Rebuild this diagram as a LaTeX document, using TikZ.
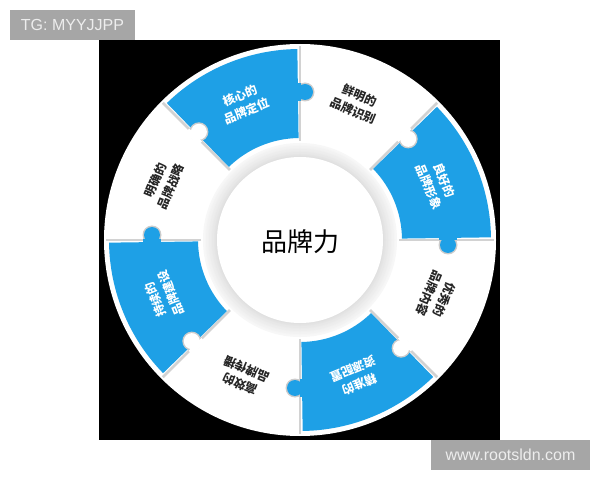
\documentclass[tikz,border=0pt]{standalone}
\usepackage{fontspec}
\newfontfamily\cjk{Noto Sans CJK SC}
\newfontfamily\wmfont{Liberation Sans}
\definecolor{puzzleblue}{RGB}{30,160,230}
\definecolor{markgray}{RGB}{166,166,166}
\tikzset{
  ringtext/.style={font=\cjk\bfseries\fontsize{12}{16.5}\selectfont, align=center, inner sep=0pt},
  wmtext/.style={font=\wmfont\fontsize{16}{18}\selectfont, text=white!93!black, inner sep=0pt},
  seamline/.style={line width=2.5, color=gray!35}
}
\begin{document}
\begin{tikzpicture}[x=1pt,y=1pt]
  \useasboundingbox (0,0) rectangle (600,480);
  \fill[white] (0,0) rectangle (600,480);
  \fill[black] (99,40) rectangle (500,440);

  % watermarks
  \fill[markgray] (10,440) rectangle (135,470);
  \node[wmtext] (tg) at (72.5,455) {TG: MYYJJPP};
  \fill[markgray] (431,10) rectangle (590,40);
  \node[wmtext] (web) at (510.5,25) {www.rootsldn.com};

  \begin{scope}[shift={(300,240)}]
    \fill[white] (0,0) circle (196);
    \foreach \a in {0,45,...,315}
      \draw[seamline] (\a:99) -- (\a:194);
    \foreach \s in {0,90,180,270}
      \fill[puzzleblue] ({\s+0.8}:102) arc[start angle=\s+0.8, end angle=\s+44.2, radius=102]
        -- ({\s+44.2}:191) arc[start angle=\s+44.2, end angle=\s+0.8, radius=191] -- cycle;

    % puzzle knobs
    \foreach \a/\c in {0/puzzleblue,45/white,90/puzzleblue,135/white,180/puzzleblue,225/white,270/puzzleblue,315/white}{
      \begin{scope}[rotate=\a]
        \fill[gray!40] (148,-5) circle (9.5);
        \fill[\c] (148,-5) circle (8);
        \fill[\c] (139,-0.5) -- (157,-0.5) -- (157,5) -- (139,5) -- cycle;
      \end{scope}
    }

    % centre ring
    \foreach \k [evaluate=\k as \g using int(3+0.7*\k)] in {0,...,13}
      \fill[black!\g] (0,0) circle ({97-\k});
    \fill[white] (0,0) circle (83);
    \node[font=\cjk\fontsize{26}{30}\selectfont] (core) at (0,-1.5) {品牌力};

    \foreach \a/\t/\c [count=\i] in {112.5/{核心的\\品牌定位}/white, 67.5/{鲜明的\\品牌识别}/black!85,
        22.5/{良好的\\品牌形象}/white, -22.5/{优秀的\\品牌内容}/black!85,
        -67.5/{精准的\\资源配置}/white, -112.5/{高效的\\品牌传播}/black!85,
        -157.5/{持续的\\品牌建设}/white, 157.5/{明确的\\品牌战略}/black!85}
      \node[ringtext, text=\c, rotate=\a-90] (seg\i) at (\a:148) {\t};
  \end{scope}
\end{tikzpicture}
\end{document}
